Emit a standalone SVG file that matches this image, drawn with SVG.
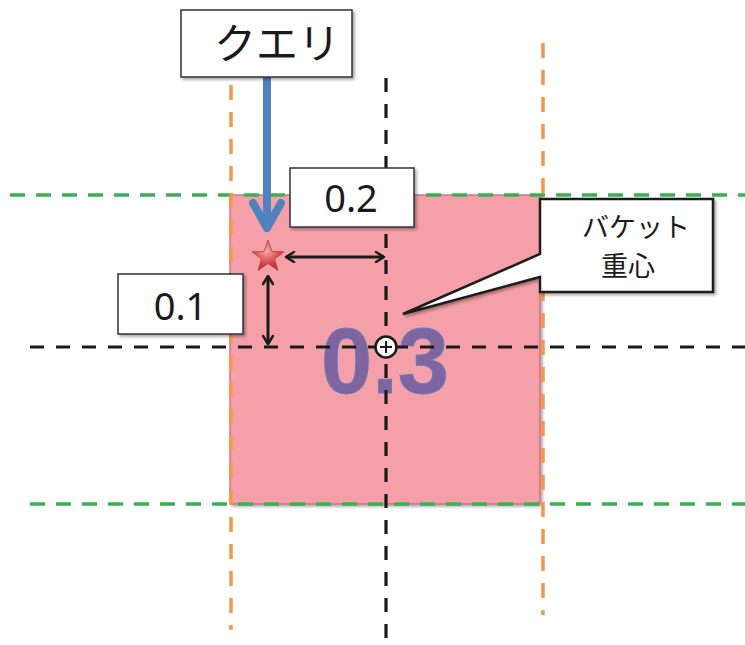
<svg xmlns="http://www.w3.org/2000/svg" width="745" height="645" viewBox="0 0 745 645">
<defs>
<style>
.green{stroke:#3BAF55;stroke-width:3.5;stroke-dasharray:15 11;fill:none}
.orange{stroke:#F79646;stroke-width:3.5;stroke-dasharray:15 12;fill:none}
.black{stroke:#1a1a1a;stroke-width:3.2;stroke-dasharray:14 12;fill:none}
.box{fill:#fff;stroke:#333;stroke-width:1.5;filter:url(#sh)}
.num{font-family:"Noto Sans","Liberation Sans",sans-serif;font-size:38px;fill:#1a1a1a;text-anchor:middle}
.jp{font-family:"Noto Sans CJK JP",sans-serif;fill:#1a1a1a;text-anchor:middle}
.dim{stroke:#1a1a1a;stroke-width:3;fill:none;marker-start:url(#ah);marker-end:url(#ah)}
</style>
<filter id="sh" x="-10%" y="-10%" width="130%" height="140%">
<feDropShadow dx="2" dy="2" stdDeviation="1.5" flood-color="#000" flood-opacity="0.35"/>
</filter>
<marker id="ah" viewBox="0 0 12 12" refX="10" refY="6" markerWidth="12" markerHeight="12" markerUnits="userSpaceOnUse" orient="auto-start-reverse">
<path d="M2,1 L10,6 L2,11" fill="none" stroke="#1a1a1a" stroke-width="2.5" stroke-linecap="round" stroke-linejoin="round"/>
</marker>
<radialGradient id="starg" cx="45%" cy="35%" r="70%">
<stop offset="0" stop-color="#F7A6A6"/>
<stop offset="0.6" stop-color="#D9474A"/>
<stop offset="1" stop-color="#A8282C"/>
</radialGradient>
</defs>
<rect width="745" height="645" fill="#fff"/>
<g id="bucket">
<rect x="230" y="195" width="310" height="309" fill="#F5A0A8" stroke="#C9646E" stroke-width="1.2" filter="url(#sh)"/>
<text x="385" y="393" font-family="Liberation Sans, Arial, sans-serif" font-weight="bold" font-size="92" fill="#7F65A0" stroke="#5B7FC0" stroke-width="0.8" text-anchor="middle">0.3</text>
</g>
<g id="gridlines">
<line class="green" x1="10" y1="195" x2="745" y2="195"/>
<line class="green" x1="30" y1="504" x2="745" y2="504"/>
<line class="orange" x1="231" y1="85" x2="231" y2="630"/>
<line class="orange" x1="543" y1="43" x2="543" y2="615"/>
<line class="black" x1="30" y1="347" x2="745" y2="347"/>
<line class="black" x1="386" y1="78" x2="386" y2="645"/>
</g>
<g id="connectors">
<line x1="267" y1="77" x2="267" y2="226" stroke="#4F81BD" stroke-width="8"/>
<polyline points="253,203 267,228 281,203" fill="none" stroke="#4F81BD" stroke-width="8" stroke-linecap="round" stroke-linejoin="round"/>
<line class="dim" x1="286" y1="257" x2="384" y2="257"/>
<line class="dim" x1="268" y1="276" x2="268" y2="344"/>
</g>
<g id="query-point">
<polygon points="268,240 272,251.5 284,251.8 274.5,259 278,270.5 268,263.5 258,270.5 261.5,259 252,251.8 264,251.5" fill="url(#starg)" stroke="#B83A3E" stroke-width="0.8"/>
</g>
<g id="centroid">
<circle cx="386" cy="347" r="10.5" fill="#fff" stroke="#1a1a1a" stroke-width="2.5"/>
<line x1="380" y1="347" x2="392" y2="347" stroke="#1a1a1a" stroke-width="2"/>
<line x1="386" y1="341" x2="386" y2="353" stroke="#1a1a1a" stroke-width="2"/>
</g>
<g id="query-label">
<rect class="box" x="181" y="10" width="171" height="67"/>
<text class="jp" x="277" y="59" font-size="42">クエリ</text>
</g>
<g id="label-02">
<rect class="box" x="290" y="168" width="124" height="59"/>
<text class="num" x="351" y="212">0.2</text>
</g>
<g id="label-01">
<rect class="box" x="118" y="274" width="125" height="60"/>
<text class="num" x="180.5" y="320">0.1</text>
</g>
<g id="centroid-callout">
<path d="M540,199 H713 V292 H540 V277 L403,314 L540,254 Z" fill="#fff" stroke="#1a1a1a" stroke-width="2.5" stroke-linejoin="miter" filter="url(#sh)"/>
<text class="jp" x="636" y="237" font-size="27">バケット</text>
<text class="jp" x="628" y="276" font-size="27">重心</text>
</g>
</svg>
